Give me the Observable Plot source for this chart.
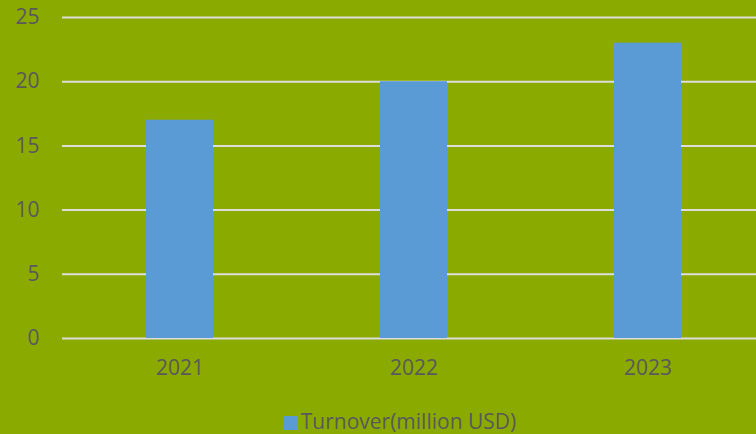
<!DOCTYPE html>
<html>
<head>
<meta charset="utf-8">
<script src="https://cdn.jsdelivr.net/npm/d3@7"></script>
<script src="https://cdn.jsdelivr.net/npm/@observablehq/plot@0.6"></script>
<style>
  html, body { margin: 0; padding: 0; background: #8BAA00; }
  body { width: 756px; height: 434px; overflow: hidden; font-family: "Open Sans", sans-serif; }
  #legend { height: 34px; display: flex; justify-content: center; align-items: flex-start; color: #595959; font-size: 21px; line-height: 24px; padding-left: 44px; padding-top: 9px; box-sizing: border-box; }
  #legend .sw { display: inline-block; width: 14px; height: 14px; background: #5B9BD5; margin-right: 3px; margin-top: 7px; }
</style>
</head>
<body>
<div id="chart"></div>
<div id="legend"><span class="sw"></span><span id="legendText"></span></div>
<script>
const years = ["2021", "2022", "2023"];
const turnover = [17, 20, 23];
const yTicks = [0, 5, 10, 15, 20, 25];
const seriesName = "Turnover(million USD)";

const data = years.map((y, i) => ({year: y, value: turnover[i]}));

const chart = Plot.plot({
  width: 756,
  height: 400,
  marginTop: 17,
  marginBottom: 62,
  marginLeft: 62,
  marginRight: 0,
  style: {background: "transparent", fontFamily: "Open Sans, sans-serif", fontSize: "21px", color: "#595959"},
  x: {domain: years, range: [62.5, 764.5], paddingInner: 0.712, paddingOuter: 0.356, label: null},
  y: {domain: [0, 25], label: null},
  marks: [
    Plot.ruleY(yTicks, {stroke: "#DCDCDC", strokeWidth: 2}),
    Plot.barY(data, {x: "year", y: "value", fill: "#5B9BD5"}),
    Plot.axisY(yTicks, {tickSize: 0, tickPadding: 23, fontSize: 21, fill: "#595959", label: null}),
    Plot.axisX({tickSize: 0, tickPadding: 22, fontSize: 21, fill: "#595959", label: null})
  ]
});
document.getElementById("chart").appendChild(chart);
document.getElementById("legendText").textContent = seriesName;
</script>
</body>
</html>
